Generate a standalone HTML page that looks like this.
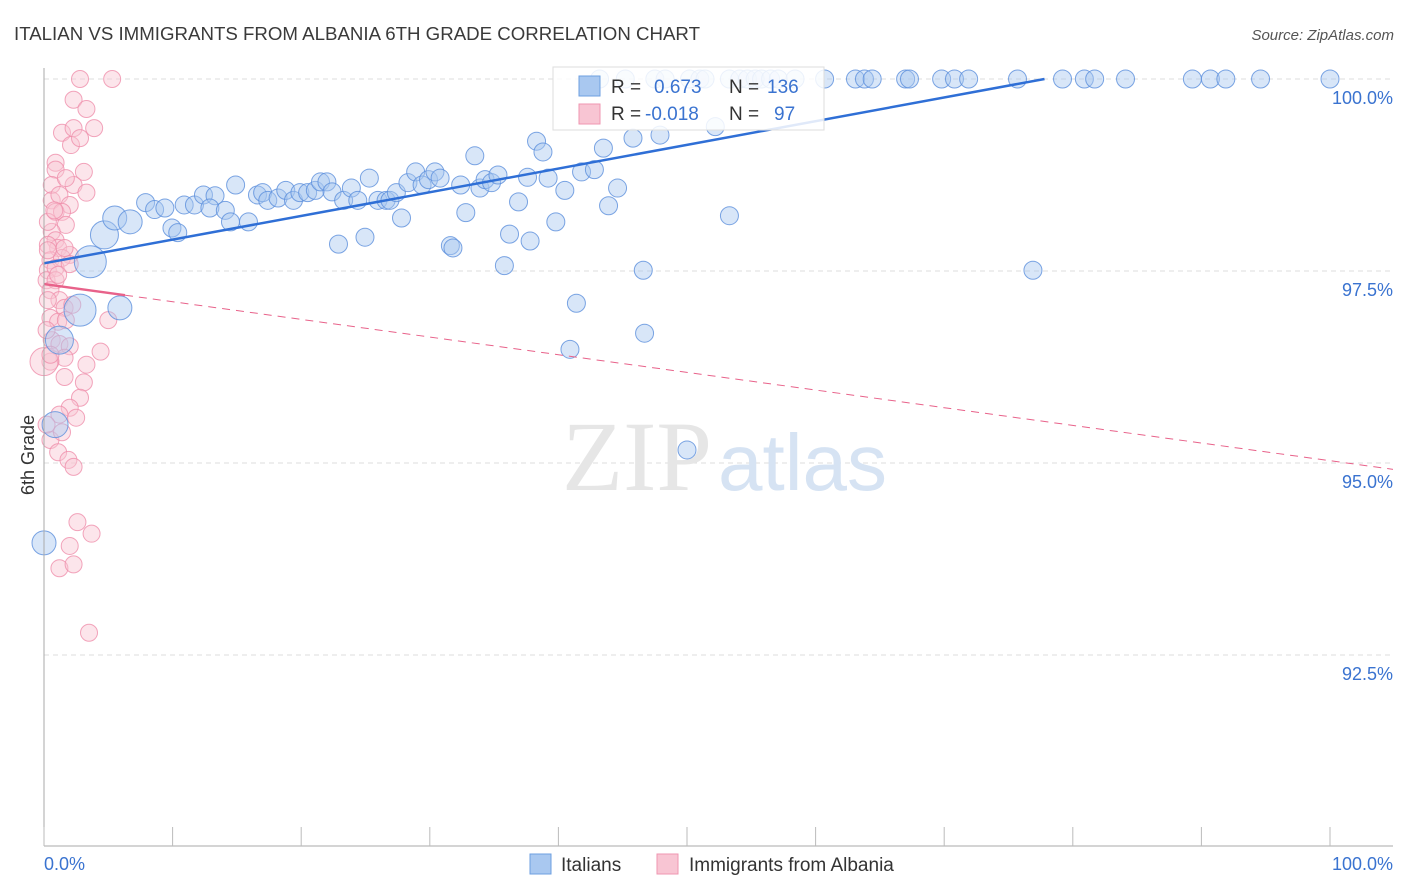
<!DOCTYPE html>
<html><head><meta charset="utf-8"><style>
body{margin:0;background:#fff;font-family:"Liberation Sans",sans-serif}
svg{display:block}
</style></head><body>
<svg id="chart" width="1406" height="892">
<text x="14" y="40" font-size="18" fill="#3a3a3a" textLength="686" lengthAdjust="spacingAndGlyphs">ITALIAN VS IMMIGRANTS FROM ALBANIA 6TH GRADE CORRELATION CHART</text>
<text x="1394" y="40" font-size="15" fill="#555" font-style="italic" text-anchor="end">Source: ZipAtlas.com</text>
<g id="grid"></g>
<text x="712" y="490" font-size="100" fill="#e6e6e6" font-family="Liberation Serif,serif" text-anchor="end">ZIP</text>
<text x="718" y="490" font-size="80" fill="#d6e3f3">atlas</text>
<g id="pts"></g>
<g id="trends"></g>
<g id="axes"></g>
<text transform="translate(34,455) rotate(-90)" font-size="18" fill="#333" text-anchor="middle">6th Grade</text>
<g>
<rect x="553" y="67" width="271" height="63" fill="#fff" fill-opacity="0.85" stroke="#ddd"/>
<rect x="579" y="76" width="21" height="20" fill="#a9c8f0" stroke="#6d9fe0"/>
<rect x="579" y="104" width="21" height="20" fill="#f8c5d3" stroke="#ef96b0"/>
<text x="611" y="93" font-size="19" fill="#333">R = </text><text x="654" y="93" font-size="19" fill="#3a73d0">0.673</text>
<text x="729" y="93" font-size="19" fill="#333">N = </text><text x="767" y="93" font-size="19" fill="#3a73d0">136</text>
<text x="611" y="120" font-size="19" fill="#333">R = </text><text x="645" y="120" font-size="19" fill="#3a73d0">-0.018</text>
<text x="729" y="120" font-size="19" fill="#333">N = </text><text x="774" y="120" font-size="19" fill="#3a73d0">97</text>
</g>
<g>
<rect x="530" y="854" width="21" height="20" fill="#a9c8f0" stroke="#6d9fe0"/>
<text x="561" y="871" font-size="19" fill="#333">Italians</text>
<rect x="657" y="854" width="21" height="20" fill="#f8c5d3" stroke="#ef96b0"/>
<text x="689" y="871" font-size="19" fill="#333">Immigrants from Albania</text>
</g>
</svg>
<script>
const yTicks=[100,97.5,95,92.5];
const yTickLabels=["100.0%","97.5%","95.0%","92.5%"];
const xTicks=[0,10,20,30,40,50,60,70,80,90,100];
const blueX=[3.6,4.7,5.5,6.7,2.8,5.9,1.2,0.86,0,7.9,8.6,9.4,9.95,10.4,10.9,11.7,12.4,13.3,12.9,14.1,14.9,14.5,15.9,16.6,17,17.4,18.2,18.8,19.4,19.9,20.5,21.1,21.5,22,22.4,22.9,23.3,23.9,24.4,24.96,25.3,25.97,26.6,26.9,27.4,27.8,28.3,28.9,29.4,29.9,30.4,30.8,31.6,31.8,32.4,32.8,33.5,33.9,34.3,34.8,35.3,35.8,36.2,36.9,37.6,37.8,38.3,38.8,39.2,39.8,40.5,40.9,41.4,41.8,42.8,43.5,43.9,44.6,45.8,46.6,46.7,47.9,50,52.2,53.3,76.9,
43.2,45.2,47.5,48.3,50.2,51,51.4,53.3,54.1,54.7,55.3,55.8,56.5,57.1,58.4,60.7,63.1,63.8,64.4,67,67.3,69.8,70.8,71.9,75.7,79.2,80.9,81.7,84.1,89.3,90.7,91.9,94.6,100];
const blueY=[97.62,97.97,98.19,98.14,96.99,97.02,96.6,95.5,93.96,98.39,98.3,98.32,98.06,98.0,98.36,98.36,98.49,98.48,98.32,98.29,98.62,98.14,98.14,98.49,98.52,98.42,98.45,98.55,98.42,98.52,98.52,98.55,98.66,98.66,98.53,97.85,98.42,98.58,98.42,97.94,98.71,98.42,98.42,98.42,98.52,98.19,98.65,98.79,98.62,98.69,98.79,98.71,97.83,97.8,98.62,98.26,99.0,98.58,98.69,98.65,98.75,97.57,97.98,98.4,98.72,97.89,99.19,99.05,98.71,98.14,98.55,96.48,97.08,98.79,98.82,99.1,98.35,98.58,99.23,97.51,96.69,99.27,95.17,99.38,98.22,97.51,
100,100,100,100,100,100,100,100,100,100,100,100,100,100,100,100,100,100,100,100,100,100,100,100,100,100,100,100,100,100,100,100,100,100];
const blueR=[16,14,12,12,16,12,14,13,12];
const pinkX=[2.8,5.3,2.3,3.3,1.4,2.3,3.9,2.1,2.8,0.9,0.9,3.1,0.6,2.3,3.3,0.6,1.2,2.0,0.9,1.4,1.7,0.6,0.9,1.1,0.3,2.0,0.5,1.4,0.3,0.9,2.0,0.2,0.9,0.5,1.2,1.6,2.2,0.5,1.1,1.7,5.0,0.6,1.2,2.0,4.4,1.6,3.3,0.5,1.6,3.1,2.8,2.0,1.2,2.5,0.5,1.1,1.9,2.3,2.6,3.7,2.0,1.2,2.3,3.5,0,0.2,0.3,0.3,0.8,1.6,1.7,0.3,1.1,0.5,0.2,1.4];
const pinkY=[100,100,99.73,99.61,99.3,99.36,99.36,99.14,99.23,98.91,98.82,98.79,98.62,98.62,98.52,98.42,98.49,98.36,98.27,98.27,98.1,98.01,97.9,97.8,97.84,97.71,97.64,97.67,97.51,97.54,97.59,97.38,97.38,97.25,97.12,97.02,97.06,96.89,96.84,96.86,96.86,96.6,96.55,96.52,96.45,96.37,96.28,96.32,96.12,96.05,95.85,95.72,95.63,95.59,95.3,95.14,95.04,94.95,94.23,94.08,93.92,93.63,93.68,92.79,96.32,96.73,97.12,98.14,98.29,97.8,98.71,97.77,97.45,96.41,95.5,95.4];
const blueTrend=[97.6,100];
const pinkTrend=[97.33,95.03];
const NS="http://www.w3.org/2000/svg";
const X=v=>44+v*12.86, Y=v=>79+(100-v)*76.8;
function mk(parent,tag,attrs){const e=document.createElementNS(NS,tag);for(const k in attrs)e.setAttribute(k,attrs[k]);document.getElementById(parent).appendChild(e);return e;}
yTicks.forEach((t,i)=>{
 const l=mk('grid','line',{x1:44,x2:1393,y1:Y(t),y2:Y(t),stroke:'#ddd','stroke-dasharray':'5,4'});
 
 
 const tx=mk('axes','text',{x:1393,y:Y(t)+25,'font-size':18,fill:'#3a73d0','text-anchor':'end'});
 tx.textContent=yTickLabels[i];
 
 
});
let ax=mk('axes','line',{x1:44,x2:44,y1:68,y2:846,stroke:'#aaa'});


ax=mk('axes','line',{x1:44,x2:1393,y1:846,y2:846,stroke:'#aaa'});


xTicks.forEach(t=>{
 const l=mk('axes','line',{x1:X(t),x2:X(t),y1:827,y2:846,stroke:'#bbb'});
 
 
});
let xl=mk('axes','text',{x:44,y:870,'font-size':18,fill:'#3a73d0'});xl.textContent='0.0%';


xl=mk('axes','text',{x:1393,y:870,'font-size':18,fill:'#3a73d0','text-anchor':'end'});xl.textContent='100.0%';


pinkX.forEach((v,i)=>{
 const c=mk('pts','circle',{cx:X(v),cy:Y(pinkY[i]),r:i==64?14:8.5,fill:'#f8c5d3','fill-opacity':0.45,stroke:'#ef8fab','stroke-opacity':0.8});
 
 
});
blueX.forEach((v,i)=>{
 const c=mk('pts','circle',{cx:X(v),cy:Y(blueY[i]),r:blueR[i]||9,fill:'#a9c8f0','fill-opacity':0.45,stroke:'#5b8fdc','stroke-opacity':0.8});
 
 
});
let t=mk('trends','line',{x1:X(0),y1:Y(blueTrend[0]),x2:X(77.8),y2:Y(blueTrend[1]),stroke:'#2f6fd6','stroke-width':2.5});


const pk=x=>pinkTrend[0]+(pinkTrend[1]-pinkTrend[0])*x/100;
t=mk('trends','line',{x1:X(0),y1:Y(pk(0)),x2:X(6.3),y2:Y(pk(6.3)),stroke:'#e8628a','stroke-width':2.5});


t=mk('trends','line',{x1:X(6.3),y1:Y(pk(6.3)),x2:1393,y2:Y(pk(104.9)),stroke:'#e8628a','stroke-width':1,'stroke-dasharray':'8,6'});


</script>
</body></html>
